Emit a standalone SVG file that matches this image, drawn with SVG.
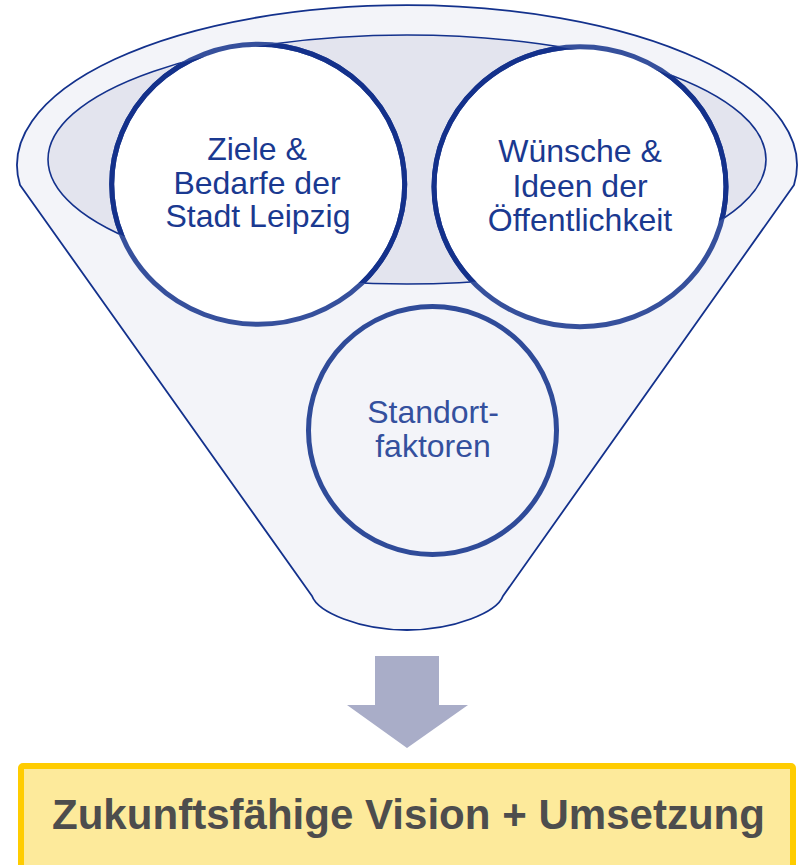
<svg xmlns="http://www.w3.org/2000/svg" width="801" height="865" viewBox="0 0 801 865">
<style>
.lbl{font-family:"Liberation Sans",Arial,sans-serif;font-size:32px;text-anchor:middle;fill:#1A3990}
.lbl2{font-family:"Liberation Sans",Arial,sans-serif;font-size:32px;text-anchor:middle;fill:#34509E}
.ring{fill:#FFFFFF;stroke:#36509C;stroke-width:5}
.ringdark{fill:none;stroke:#14318B;stroke-width:5}
</style>
<defs>
<clipPath id="innerClip"><ellipse cx="407" cy="159.5" rx="359" ry="124.5"/></clipPath>
</defs>
<g id="funnel">
<path d="M20,185 A390,160 0 1 1 794,185 L503,596 C497,612 455,630 407,630 C359,630 318,612 312,596 Z" fill="#F3F4F9" stroke="#13318C" stroke-width="1.8" stroke-linejoin="round"/>
<ellipse cx="407" cy="159.5" rx="359" ry="124.5" fill="#E3E4EE" stroke="#13318C" stroke-width="1.6"/>
</g>
<g id="node-standort">
<circle cx="432.5" cy="430.5" r="124" fill="#F3F4F9" stroke="#2F4B99" stroke-width="5"/>
<text class="lbl2" x="433" y="422.5">Standort-</text>
<text class="lbl2" x="433" y="457">faktoren</text>
</g>
<g id="node-ziele">
<ellipse class="ring" cx="258.2" cy="184.3" rx="146.5" ry="140"/>
<ellipse class="ringdark" cx="258.2" cy="184.3" rx="146.5" ry="140" clip-path="url(#innerClip)"/>
<text class="lbl" x="257" y="159.5">Ziele &amp;</text>
<text class="lbl" x="257" y="193.5">Bedarfe der</text>
<text class="lbl" x="258" y="227">Stadt Leipzig</text>
</g>
<g id="node-wuensche">
<ellipse class="ring" cx="580" cy="186.7" rx="146" ry="140"/>
<ellipse class="ringdark" cx="580" cy="186.7" rx="146" ry="140" clip-path="url(#innerClip)"/>
<text class="lbl" x="580" y="162">Wünsche &amp;</text>
<text class="lbl" x="580" y="196.5">Ideen der</text>
<text class="lbl" x="580" y="231">Öffentlichkeit</text>
</g>
<g id="connectors">
<path d="M375,656 L439,656 L439,705 L468,705 L407,748 L347,705 L375,705 Z" fill="#A9ADC8"/>
</g>
<g id="node-result">
<rect x="21" y="766" width="772" height="112" rx="2" fill="#FDEA9B" stroke="#FFCC00" stroke-width="6"/>
<text x="408.5" y="829" font-family="'Liberation Sans',Arial,sans-serif" font-size="43" font-weight="bold" fill="#4D4D4D" text-anchor="middle" textLength="713" lengthAdjust="spacingAndGlyphs">Zukunftsfähige Vision + Umsetzung</text>
</g>
</svg>
